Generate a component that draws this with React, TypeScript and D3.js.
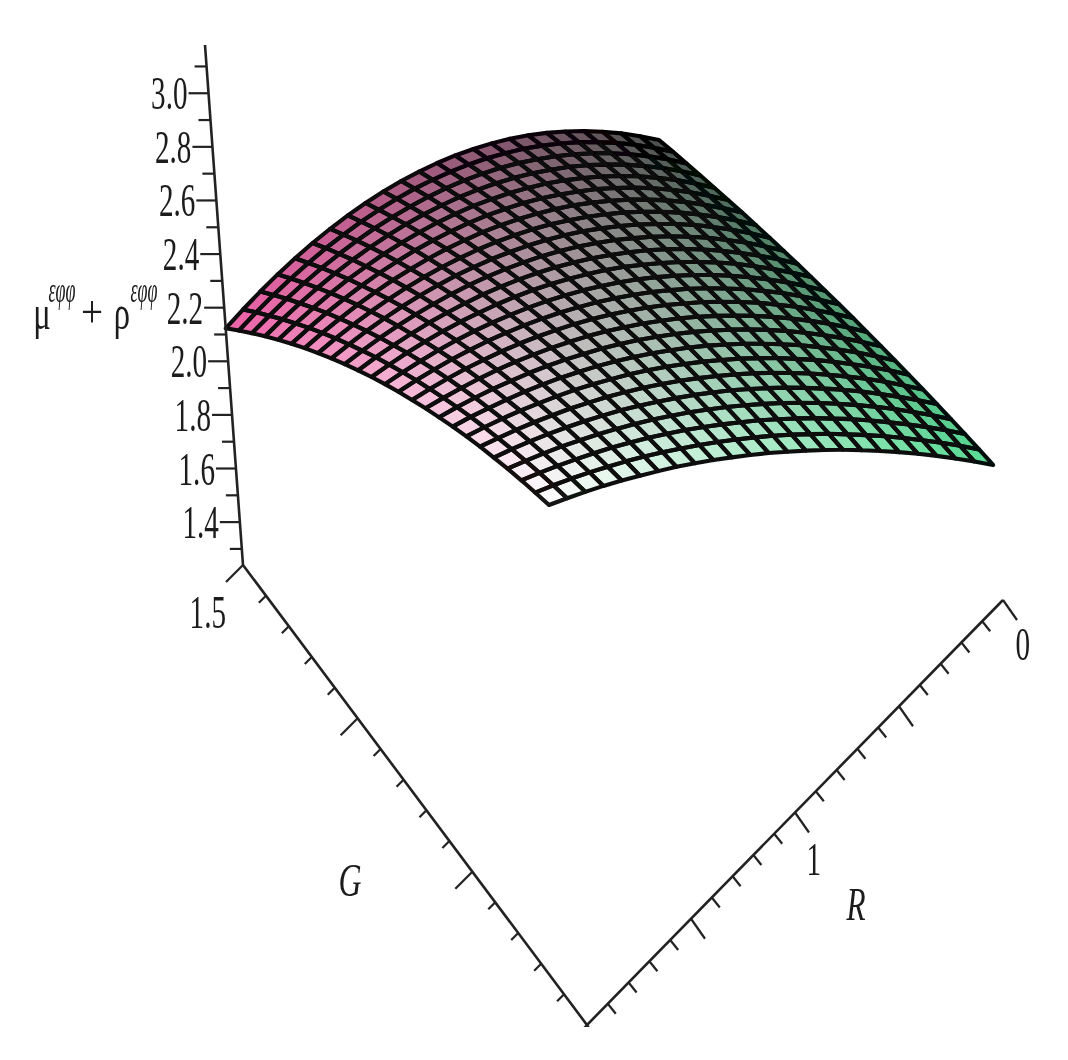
import React from "react";
import * as d3 from "d3";

const zMajor = [1.4, 1.6, 1.8, 2.0, 2.2, 2.4, 2.6, 2.8, 3.0];
const zMinor = [1.3, 1.5, 1.7, 1.9, 2.1, 2.3, 2.5, 2.7, 2.9, 3.1];
const zRange = [1.24, 3.18];

// one row per R step (R = 0 .. 2), one column per G step (G = 0 .. 1.5)
const zGrid = [
  [1.744,1.730,1.716,1.700,1.685,1.668,1.651,1.633,1.615,1.596,1.577,1.557,1.536,1.515,1.493,1.470,1.447,1.423,1.399,1.374,1.348,1.322,1.295,1.268,1.240],
  [1.823,1.810,1.796,1.781,1.765,1.749,1.733,1.715,1.697,1.679,1.659,1.639,1.619,1.597,1.576,1.553,1.530,1.506,1.481,1.456,1.430,1.404,1.377,1.349,1.320],
  [1.900,1.887,1.874,1.859,1.844,1.829,1.812,1.795,1.777,1.759,1.739,1.719,1.699,1.677,1.655,1.633,1.609,1.585,1.560,1.535,1.509,1.482,1.454,1.426,1.397],
  [1.976,1.963,1.950,1.936,1.921,1.906,1.889,1.872,1.854,1.836,1.817,1.797,1.776,1.754,1.732,1.709,1.686,1.661,1.636,1.610,1.583,1.556,1.528,1.499,1.469],
  [2.050,2.037,2.024,2.011,1.996,1.980,1.964,1.947,1.929,1.911,1.891,1.871,1.850,1.829,1.806,1.783,1.759,1.734,1.708,1.682,1.655,1.627,1.598,1.568,1.538],
  [2.122,2.110,2.097,2.083,2.069,2.053,2.037,2.020,2.002,1.983,1.964,1.943,1.922,1.900,1.877,1.853,1.829,1.803,1.777,1.750,1.722,1.693,1.664,1.634,1.602],
  [2.192,2.180,2.168,2.154,2.139,2.124,2.107,2.090,2.072,2.053,2.033,2.012,1.991,1.968,1.945,1.921,1.895,1.869,1.843,1.815,1.786,1.757,1.726,1.695,1.663],
  [2.261,2.249,2.236,2.223,2.208,2.192,2.176,2.158,2.140,2.120,2.100,2.079,2.057,2.034,2.010,1.985,1.959,1.933,1.905,1.877,1.847,1.817,1.785,1.753,1.720],
  [2.329,2.317,2.304,2.290,2.275,2.259,2.242,2.224,2.205,2.185,2.165,2.143,2.120,2.096,2.072,2.046,2.020,1.992,1.964,1.934,1.904,1.872,1.840,1.807,1.773],
  [2.394,2.382,2.369,2.355,2.339,2.323,2.306,2.287,2.268,2.248,2.226,2.204,2.181,2.156,2.131,2.105,2.077,2.049,2.020,1.989,1.958,1.925,1.892,1.857,1.822],
  [2.458,2.446,2.432,2.418,2.402,2.385,2.367,2.349,2.329,2.308,2.286,2.263,2.239,2.214,2.187,2.160,2.132,2.102,2.072,2.041,2.008,1.974,1.940,1.904,1.867],
  [2.520,2.508,2.494,2.479,2.463,2.445,2.427,2.408,2.387,2.365,2.343,2.319,2.294,2.268,2.241,2.213,2.183,2.153,2.121,2.089,2.055,2.020,1.984,1.947,1.909],
  [2.581,2.568,2.553,2.538,2.521,2.503,2.484,2.464,2.443,2.421,2.397,2.372,2.346,2.319,2.291,2.262,2.232,2.200,2.167,2.133,2.098,2.062,2.025,1.986,1.947],
  [2.640,2.626,2.611,2.595,2.578,2.559,2.540,2.519,2.497,2.473,2.449,2.423,2.396,2.368,2.339,2.309,2.277,2.244,2.210,2.175,2.139,2.101,2.062,2.022,1.981],
  [2.697,2.683,2.667,2.651,2.632,2.613,2.593,2.571,2.548,2.524,2.498,2.471,2.443,2.414,2.384,2.352,2.319,2.285,2.250,2.213,2.175,2.136,2.096,2.055,2.012],
  [2.753,2.738,2.722,2.704,2.685,2.665,2.644,2.621,2.597,2.572,2.545,2.517,2.488,2.458,2.426,2.393,2.359,2.323,2.286,2.248,2.209,2.168,2.126,2.083,2.039],
  [2.807,2.791,2.774,2.756,2.736,2.715,2.692,2.669,2.643,2.617,2.589,2.560,2.530,2.498,2.465,2.431,2.395,2.358,2.320,2.280,2.239,2.197,2.153,2.108,2.062],
  [2.860,2.843,2.825,2.805,2.785,2.763,2.739,2.714,2.688,2.660,2.631,2.601,2.569,2.536,2.502,2.466,2.429,2.390,2.350,2.309,2.266,2.222,2.177,2.130,2.082],
  [2.910,2.893,2.874,2.853,2.831,2.808,2.784,2.758,2.730,2.701,2.671,2.639,2.606,2.571,2.535,2.498,2.459,2.419,2.377,2.334,2.290,2.244,2.197,2.148,2.098],
  [2.959,2.941,2.921,2.899,2.876,2.852,2.826,2.799,2.770,2.740,2.708,2.675,2.640,2.604,2.566,2.527,2.487,2.445,2.402,2.357,2.310,2.263,2.213,2.163,2.111],
  [3.007,2.987,2.966,2.943,2.919,2.893,2.866,2.838,2.807,2.776,2.742,2.708,2.672,2.634,2.595,2.554,2.512,2.468,2.423,2.376,2.328,2.278,2.227,2.174,2.120],
  [3.053,3.032,3.009,2.986,2.960,2.933,2.905,2.874,2.843,2.810,2.775,2.739,2.701,2.661,2.620,2.578,2.534,2.488,2.441,2.392,2.342,2.290,2.237,2.182,2.126],
  [3.097,3.075,3.051,3.026,2.999,2.971,2.941,2.909,2.876,2.841,2.805,2.767,2.727,2.686,2.643,2.599,2.553,2.505,2.456,2.406,2.353,2.299,2.244,2.187,2.128],
  [3.139,3.116,3.091,3.064,3.036,3.006,2.975,2.942,2.907,2.870,2.832,2.793,2.751,2.708,2.664,2.617,2.569,2.520,2.469,2.416,2.361,2.305,2.247,2.188,2.127],
  [3.180,3.155,3.129,3.101,3.071,3.040,3.007,2.972,2.935,2.897,2.857,2.816,2.773,2.728,2.681,2.633,2.583,2.531,2.478,2.423,2.366,2.308,2.248,2.186,2.123],
];
const rValues = d3.range(25).map((i) => i / 12);
const gValues = d3.range(25).map((j) => j / 16);

const rx = d3.scaleLinear().domain([0, 2]).range([1003, 587]);
const ry = d3.scaleLinear().domain([0, 2]).range([600, 1025]);
const gx = d3.scaleLinear().domain([0, 1.5]).range([0, -344]);
const gy = d3.scaleLinear().domain([0, 1.5]).range([0, -460]);
const zx = d3.scaleLinear().domain(zRange).range([0, -38]);
const zy = d3.scaleLinear().domain(zRange).range([0, -520]);
const P = (R: number, G: number, z: number): [number, number] => [
  rx(R) + gx(G) + zx(z),
  ry(R) + gy(G) + zy(z),
];

const cL = "#ee62a8", cB = "#ffffff", cR = "#58dc94", cT = "#4a504c";
const sideR0 = d3.interpolateRgb(cR, cT);
const sideR2 = d3.interpolateRgb(cB, cL);
const color = (r: number, t: number) => d3.interpolateRgb(sideR0(t), sideR2(t))(r);

const serif = "'Liberation Serif', serif";
const line = d3.line();

function Label({ x, y, text, size = 47, sx = 0.62, anchor = "end", italic = false }: any) {
  return (
    <text transform={`translate(${x},${y}) scale(${sx},1)`} fontFamily={serif} fontSize={size}
      textAnchor={anchor} fontStyle={italic ? "italic" : "normal"} fill="#1a1a1a">{text}</text>
  );
}

export default function App() {
  const fills: any[] = [];
  const strokes: any[] = [];
  for (let i = 0; i < 24; i++)
    for (let j = 0; j < 24; j++) {
      const pts = [
        P(rValues[i], gValues[j], zGrid[i][j]),
        P(rValues[i + 1], gValues[j], zGrid[i + 1][j]),
        P(rValues[i + 1], gValues[j + 1], zGrid[i + 1][j + 1]),
        P(rValues[i], gValues[j + 1], zGrid[i][j + 1]),
      ];
      const c = color((i + 0.5) / 24, (j + 0.5) / 24);
      const d = line(pts as any)! + "Z";
      fills.push(<path key={`${i}-${j}`} d={d} fill={c} />);
      strokes.push(<path key={`${i}-${j}`} d={d} stroke={d3.interpolateRgb(c, "#000")(0.93)} />);
    }
  const zA = P(2, 1.5, zRange[0]), zB = P(2, 1.5, zRange[1]);
  const gA = P(2, 0, zRange[0]), rA = P(0, 0, zRange[0]);
  const rTicks = d3.range(0, 21).map((k) => k / 10);
  const gTicks = d3.range(0, 16).map((k) => k / 10);
  const isMajor = (v: number) => Math.abs(v * 2 - Math.round(v * 2)) < 1e-6;
  return (
    <svg width={1068} height={1060} style={{ position: "absolute", left: 0, top: 0, background: "#fff" }}>
      <defs>
        <filter id="soft" x="-5%" y="-5%" width="110%" height="110%"><feGaussianBlur stdDeviation="0.55" /></filter>
        <filter id="softer" x="-10%" y="-10%" width="120%" height="120%"><feGaussianBlur stdDeviation="0.4" /></filter>
        <clipPath id="page"><rect x={0} y={0} width={1068} height={1027} /></clipPath>
      </defs>
      <g filter="url(#soft)">
        <g>{fills}</g>
        <g fill="none" strokeWidth={4.1} strokeLinejoin="round">{strokes}</g>
      </g>
      <g stroke="#222" fill="none" clipPath="url(#page)" filter="url(#softer)">
        <path d={line([zB, zA, gA, rA] as any)!} strokeWidth={2.6} />
        {[...zMajor, ...zMinor].map((z) => {
          const p = P(2, 1.5, z);
          const len = zMajor.includes(z) ? 20 : 12;
          return <line key={z} x1={p[0]} y1={p[1]} x2={p[0] - len} y2={p[1]} strokeWidth={2.2} />;
        })}
        {gTicks.map((g) => {
          const p = P(2, g, zRange[0]);
          const m = isMajor(g) ? 17 : 7;
          return <line key={g} x1={p[0]} y1={p[1]} x2={p[0] - m} y2={p[1] + m} strokeWidth={2.2} />;
        })}
        {rTicks.map((r) => {
          const p = P(r, 0, zRange[0]);
          const m = isMajor(r);
          return <line key={r} x1={p[0]} y1={p[1]} x2={p[0] + (m ? 14 : 8)} y2={p[1] + (m ? 20 : 10)} strokeWidth={2.2} />;
        })}
      </g>
      <g filter="url(#softer)">
        {zMajor.map((z) => {
          const p = P(2, 1.5, z);
          return <Label key={z} x={p[0] - 21} y={p[1] + 16} text={z.toFixed(1)} />;
        })}
        <Label x={226} y={628} text="1.5" />
        <Label x={1030} y={660} text="0" />
        <Label x={821} y={875} text="1" />
        <Label x={856} y={920} text="R" anchor="middle" size={46} sx={0.68} italic />
        <Label x={350} y={896} text="G" anchor="middle" size={47} sx={0.68} italic />
        <Label x={42} y={329} text="μ" anchor="middle" size={48} sx={0.68} />
        <Label x={62} y={302} text="εφφ" anchor="middle" size={36} sx={0.5} italic />
        <Label x={92} y={327} text="+" anchor="middle" size={46} sx={0.85} />
        <Label x={122} y={329} text="ρ" anchor="middle" size={48} sx={0.68} />
        <Label x={144} y={302} text="εφφ" anchor="middle" size={36} sx={0.5} italic />
      </g>
    </svg>
  );
}
